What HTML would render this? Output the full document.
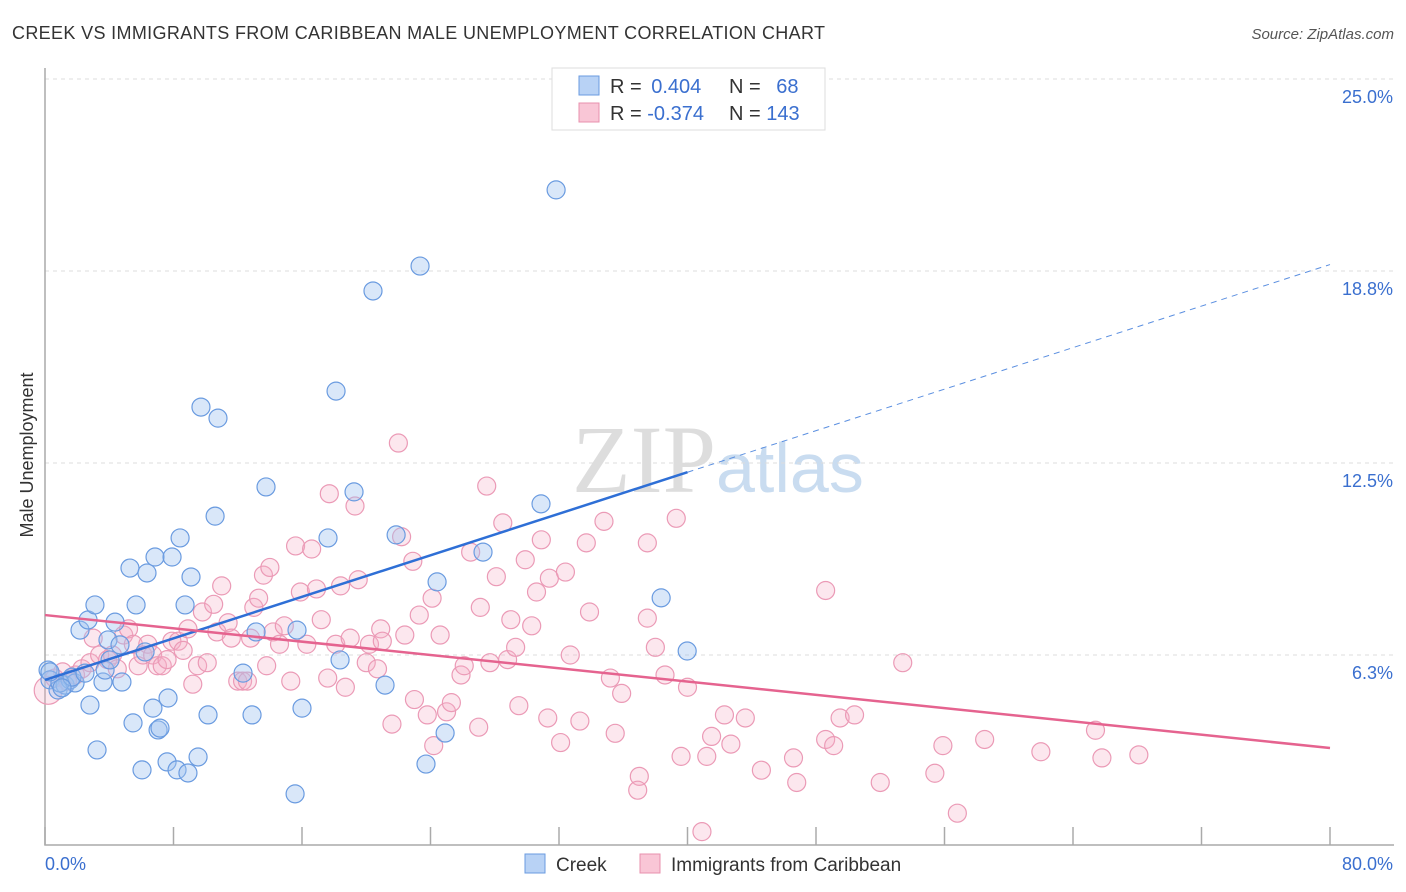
<!DOCTYPE html>
<html><head><meta charset="utf-8"><style>
body{margin:0;background:#fff;font-family:"Liberation Sans",sans-serif;}
#wrap{position:relative;width:1406px;height:892px;overflow:hidden;}
</style></head><body>
<div id="wrap">
<svg id="svg" width="1406" height="892" xmlns="http://www.w3.org/2000/svg">
<text x="12" y="39" font-size="18" fill="#333" textLength="813">CREEK VS IMMIGRANTS FROM CARIBBEAN MALE UNEMPLOYMENT CORRELATION CHART</text>
<text x="1394" y="39" font-size="15" fill="#555" font-style="italic" text-anchor="end">Source: ZipAtlas.com</text>
<text x="716" y="492" font-size="96" fill="#ddd" text-anchor="end" font-family="Liberation Serif">ZIP</text>
<text x="716" y="492" font-size="70" fill="#c9dcf0">atlas</text>
<g id="grid"></g>
<g id="axes"></g>
<g id="pts"></g>
<g id="trend"></g>
<text transform="translate(33,455) rotate(-90)" font-size="18" fill="#333" text-anchor="middle">Male Unemployment</text>
<text x="45" y="870" font-size="18" fill="#3a6fcf">0.0%</text>
<text x="1393" y="870" font-size="18" fill="#3a6fcf" text-anchor="end">80.0%</text>
<g>
<rect x="552" y="68" width="273" height="62" fill="#fff" stroke="#ddd"/>
<rect x="579" y="76" width="20" height="19" fill="#b8d2f5" stroke="#6a9be0"/>
<rect x="579" y="103" width="20" height="19" fill="#f9c6d6" stroke="#e890ae"/>
<text x="610" y="93" font-size="20" fill="#333">R = <tspan fill="#3a6fcf" dx="4">0.404</tspan></text>
<text x="729" y="93" font-size="20" fill="#333">N = <tspan fill="#3a6fcf" dx="10">68</tspan></text>
<text x="610" y="120" font-size="20" fill="#333">R = <tspan fill="#3a6fcf">-0.374</tspan></text>
<text x="729" y="120" font-size="20" fill="#333">N = <tspan fill="#3a6fcf">143</tspan></text>
</g>
<g>
<rect x="525" y="854" width="20" height="19" fill="#b8d2f5" stroke="#6a9be0"/>
<text x="556" y="871" font-size="19" fill="#333">Creek</text>
<rect x="640" y="854" width="20" height="19" fill="#f9c6d6" stroke="#e890ae"/>
<text x="671" y="871" font-size="19" fill="#333">Immigrants from Caribbean</text>
</g>
</svg>
</div>
<script>
const yTicks=[25,18.75,12.5,6.25];
const yTickLabels=["25.0%","18.8%","12.5%","6.3%"];
const xTicks=[0,8,16,24,32,40,48,56,64,72,80];
const creekX=[0.19,0.31,0.81,1.25,1.56,1.87,2.18,2.68,3.11,2.80,3.24,3.61,3.92,4.36,3.74,4.67,4.79,5.29,5.48,5.67,6.04,6.23,6.35,6.72,6.85,7.04,7.16,7.60,7.66,7.91,8.22,8.41,8.72,8.90,9.09,9.53,9.71,10.15,10.59,10.77,12.33,12.89,13.14,13.76,15.57,15.69,16.00,17.62,18.12,18.37,19.24,20.42,21.17,21.86,23.35,24.41,24.91,23.72,27.27,30.88,31.82,38.36,39.98,0.93,1.68,2.49,4.05,0.31,1.06];
const creekY=[5.76,5.44,5.11,5.27,5.44,5.34,7.06,7.39,7.88,4.62,3.16,5.37,6.74,7.32,5.76,6.58,5.37,9.08,4.04,7.88,2.51,6.35,8.92,4.52,9.44,3.81,3.87,2.77,4.85,9.44,2.51,10.06,7.88,2.41,8.79,2.93,14.32,4.30,10.77,13.96,5.66,4.30,7.00,11.72,1.73,7.06,4.52,10.06,14.84,6.09,11.56,18.10,5.27,10.16,18.91,8.63,3.71,2.70,9.60,11.17,21.39,8.11,6.38,5.34,5.53,5.66,6.09,5.70,5.18];
const caribX=[0.2,0.6,1.1,1.4,1.9,2.3,2.8,3.0,3.4,3.9,4.2,4.5,4.9,5.2,5.5,5.8,6.1,6.4,6.7,7.0,7.3,7.6,7.9,8.3,8.6,8.9,9.2,9.5,9.8,10.1,10.5,10.7,11.0,11.4,11.6,12.0,12.3,12.6,12.8,13.0,13.3,13.6,13.8,14.0,14.2,14.6,14.9,15.3,15.6,15.9,16.3,16.6,16.9,17.2,17.6,17.7,18.1,18.4,18.7,19.0,19.3,19.5,20.0,20.2,20.7,20.9,21.0,21.6,22.0,22.2,22.4,22.9,23.0,23.3,23.8,24.1,24.2,24.6,25.0,25.3,25.9,26.1,26.5,27.0,27.1,27.5,27.7,28.1,28.5,28.8,29.0,29.3,29.5,29.9,30.3,30.6,30.9,31.3,31.4,32.1,32.4,32.7,33.3,33.7,33.9,34.8,35.2,35.5,35.9,37.0,36.9,37.5,37.5,38.0,38.6,39.3,39.6,40.0,40.9,41.2,41.5,42.3,42.7,43.6,44.6,46.6,46.8,48.6,48.6,49.1,49.5,50.4,52.0,53.4,55.4,55.9,56.8,58.5,62.0,65.4,65.8,68.1];
const caribY=[5.1,5.5,5.7,5.4,5.6,5.8,6.0,6.8,6.25,6.1,6.25,5.8,6.9,7.1,6.6,5.9,6.25,6.6,6.25,5.9,5.9,6.1,6.7,6.7,6.4,7.1,5.3,5.9,7.65,6.0,7.9,7.0,8.5,7.3,6.8,5.4,5.4,5.4,6.8,7.8,8.1,8.85,5.9,9.1,7.0,6.6,7.2,5.4,9.8,8.3,6.6,9.7,8.4,7.4,5.5,11.5,6.6,8.5,5.2,6.8,11.1,8.7,6.0,6.6,5.8,7.1,6.7,4.0,13.15,10.1,6.9,9.3,4.8,7.55,4.3,8.1,3.3,6.9,4.4,4.7,5.6,5.9,9.6,3.9,7.8,11.75,6.0,8.8,10.55,6.1,7.4,6.5,4.6,9.35,7.2,8.3,10.0,4.2,8.75,3.4,8.95,6.25,4.1,9.9,7.65,10.6,5.5,3.7,5.0,2.3,1.85,9.9,7.45,6.5,5.6,10.7,2.95,5.2,0.5,2.95,3.6,4.3,3.35,4.2,2.5,2.9,2.1,8.35,3.5,3.3,4.2,4.3,2.1,6.0,2.4,3.3,1.1,3.5,3.1,3.8,2.9,3.0];
const creekTrend=[5.44,0.169];
const caribTrend=[7.55,-0.0541];
const X=v=>45+v*16.0625, Y=v=>847-v*30.72;
const NS="http://www.w3.org/2000/svg";
function mk(t,a,p){const e=document.createElementNS(NS,t);for(const k in a)e.setAttribute(k,a[k]);p.appendChild(e);return e;}
const grid=document.getElementById('grid'),axes=document.getElementById('axes'),pts=document.getElementById('pts'),tr=document.getElementById('trend');
yTicks.forEach((v,i)=>{
 const l=mk('line',{x1:45,x2:1394,y1:Y(v),y2:Y(v),stroke:'#ddd','stroke-dasharray':'4,4'},grid);
 
 
 const t=mk('text',{x:1393,y:Y(v)+24,'font-size':18,fill:'#3a6fcf','text-anchor':'end'},grid);
 t.textContent=yTickLabels[i];
 
 
});
const ax=mk('path',{d:`M45,68V845H1394`,fill:'none',stroke:'#aaa','stroke-width':1.5},axes);


xTicks.forEach(v=>{
 const l=mk('line',{x1:X(v),x2:X(v),y1:827,y2:845,stroke:'#aaa','stroke-width':1.5},axes);
 
 
});
caribX.forEach((v,i)=>{
 const c=mk('circle',{cx:X(v),cy:Y(caribY[i]),r:i==0?14:9,fill:'rgba(246,175,198,0.3)',stroke:'#eb9ab6','stroke-width':1.2},pts);
 
 
});
creekX.forEach((v,i)=>{
 const c=mk('circle',{cx:X(v),cy:Y(creekY[i]),r:9,fill:'rgba(160,195,240,0.4)',stroke:'#6a9be0','stroke-width':1.2},pts);
 
 
});
const f=(t,x)=>t[0]+t[1]*x;
let l=mk('line',{x1:X(0),y1:Y(f(creekTrend,0)),x2:X(40),y2:Y(f(creekTrend,40)),stroke:'#2e6fd6','stroke-width':2.5},tr);


l=mk('line',{x1:X(40),y1:Y(f(creekTrend,40)),x2:X(80),y2:Y(f(creekTrend,80)),stroke:'#5b8fe0','stroke-width':1,'stroke-dasharray':'6,5'},tr);


l=mk('line',{x1:X(0),y1:Y(f(caribTrend,0)),x2:X(80),y2:Y(f(caribTrend,80)),stroke:'#e5638f','stroke-width':2.5},tr);


</script>
</body></html>
